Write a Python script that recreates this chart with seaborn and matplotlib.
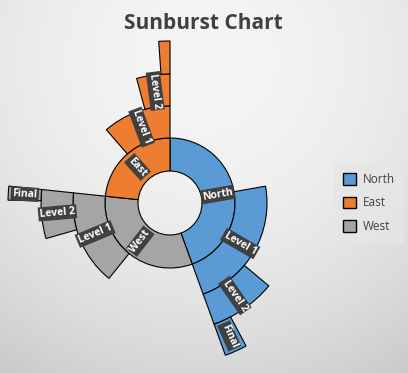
import numpy as np
import seaborn as sns
import matplotlib.pyplot as plt
from matplotlib.patches import Patch

sns.set_theme(style="white")
plt.rcParams['font.family'] = ['Open Sans', 'DejaVu Sans']

# data: angular spans (degrees of 360), clockwise from top
regions = ['North', 'West', 'East']
region_vals = [160, 116, 84]
level1_vals = [80, 57, 41]
level2_vals = [30, 22, 15]
final_vals = [8, 5, 4]
level_names = ['Level 1', 'Level 2', 'Final']
colors = {'North': '#5B9BD5', 'East': '#ED7D31', 'West': '#A5A5A5'}
legend_order = ['North', 'East', 'West']

radii = [32, 65, 97, 129, 162]

W, H = 408, 373
fig = plt.figure(figsize=(W / 100, H / 100), dpi=100)

# background gradient
bg = fig.add_axes([0, 0, 1, 1])
yy, xx = np.mgrid[0:H, 0:W]
d = np.sqrt((xx - 204) ** 2 + (yy - 60) ** 2) / 373
shade = np.clip(0.96 - 0.17 * d ** 2, 0, 1)
bg.imshow(np.dstack([shade] * 3), aspect='auto', extent=[0, 1, 0, 1])
bg.set_axis_off()

cx, cy, R = 170, 203, 165
ax = fig.add_axes([(cx - R) / W, (H - cy - R) / H, 2 * R / W, 2 * R / H],
                  projection='polar')
ax.set_theta_zero_location('N')
ax.set_theta_direction(-1)
ax.set_rlim(0, R)
ax.set_axis_off()
ax.patch.set_alpha(0)


def label_rot(a):
    rot = (90 - a) % 360
    if rot > 180:
        rot -= 360
    if rot > 90:
        rot -= 180
    if rot <= -90:
        rot += 180
    return rot


def draw(start, span, r0, r1, color, text):
    mid = start + span / 2
    ax.bar(np.deg2rad(mid), r1 - r0, width=np.deg2rad(span), bottom=r0,
           color=color, edgecolor='black', linewidth=0.8)
    if span >= 5:
        ax.text(np.deg2rad(mid), (r0 + r1) / 2, text, rotation=label_rot(mid),
                rotation_mode='anchor', ha='center', va='center',
                color='white', fontsize=7.5, fontweight='bold',
                bbox=dict(boxstyle='square,pad=0.15', fc='#404040', ec='none'))


start = 0
for i, reg in enumerate(regions):
    end = start + region_vals[i]
    draw(start, region_vals[i], radii[0], radii[1], colors[reg], reg)
    for j, vals in enumerate([level1_vals, level2_vals, final_vals]):
        draw(end - vals[i], vals[i], radii[j + 1], radii[j + 2], colors[reg], level_names[j])
    start = end

fig.text(0.498, 0.938, 'Sunburst Chart', ha='center', va='center',
         fontsize=15, fontweight='bold', color='#404040')

handles = [Patch(facecolor=colors[r], edgecolor='black', linewidth=1) for r in legend_order]
leg = fig.legend(handles, legend_order, loc='center', bbox_to_anchor=(369 / W, 1 - 203 / H),
                 frameon=True, fontsize=8.5, handlelength=1.1, handleheight=1.1,
                 labelspacing=0.9, handletextpad=0.5, borderpad=0.8, fancybox=False)
leg.get_frame().set_facecolor('#e6e6e6')
leg.get_frame().set_edgecolor('none')
for t in leg.get_texts():
    t.set_color('#404040')

fig.savefig('out.png', dpi=100)
